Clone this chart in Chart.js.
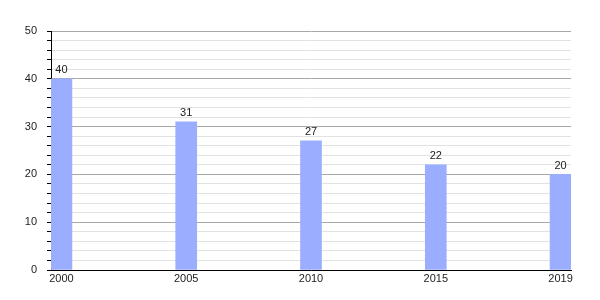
<!DOCTYPE html>
<html>
<head>
<meta charset="utf-8">
<script src="https://cdn.jsdelivr.net/npm/chart.js@4/dist/chart.umd.min.js"></script>
<style>
html,body{margin:0;padding:0;background:#fff;}
#wrap{width:600px;height:300px;}
</style>
</head>
<body>
<div id="wrap"><canvas id="c" width="600" height="300"></canvas></div>
<script>
const years = ['2000', '2005', '2010', '2015', '2019'];
const values = [40, 31, 27, 22, 20];
const yTickLabels = [0, 10, 20, 30, 40, 50];

const points = values.map((v, i) => ({ x: i, y: v }));

const valueLabels = {
  id: 'valueLabels',
  afterDatasetsDraw(chart) {
    const ctx = chart.ctx;
    const meta = chart.getDatasetMeta(0);
    ctx.save();
    ctx.font = '11px "Liberation Sans", Arial, sans-serif';
    ctx.fillStyle = '#222';
    ctx.textAlign = 'center';
    ctx.textBaseline = 'bottom';
    meta.data.forEach((bar, i) => {
      ctx.fillText(String(values[i]), bar.x, bar.y - 3);
    });
    ctx.restore();
  }
};

new Chart(document.getElementById('c'), {
  type: 'bar',
  data: {
    datasets: [{
      data: points,
      backgroundColor: '#9badff',
      borderWidth: 0,
      barThickness: 21
    }]
  },
  plugins: [valueLabels],
  options: {
    responsive: false,
    animation: false,
    maintainAspectRatio: false,
    layout: { padding: { left: 0, right: 29, top: 31, bottom: 0 } },
    plugins: { legend: { display: false }, tooltip: { enabled: false } },
    scales: {
      x: {
        type: 'linear',
        offset: false,
        min: -0.0835,
        max: 4.0835,
        afterBuildTicks(scale) {
          scale.ticks = years.map((y, i) => ({ value: i }));
        },
        afterFit(scale) { scale.height = 30; },
        grid: { display: false, drawTicks: false, tickLength: 0 },
        border: { display: true, color: '#000', width: 1 },
        ticks: {
          autoSkip: false,
          maxRotation: 0,
          padding: 2,
          color: '#222',
          font: { size: 11, family: '"Liberation Sans", Arial, sans-serif' },
          callback: (v) => years[v] !== undefined ? years[v] : ''
        }
      },
      y: {
        min: 0,
        max: 50,
        afterFit(scale) { scale.width = 51; },
        border: { display: true, color: '#000', width: 1 },
        grid: {
          color: (c) => (c.tick && c.tick.value % 10 === 0) ? '#a8a8a8' : '#e2e2e2',
          tickColor: '#000',
          tickLength: 4,
          drawTicks: true
        },
        ticks: {
          stepSize: 2,
          autoSkip: false,
          padding: 10,
          color: '#222',
          font: { size: 11, family: '"Liberation Sans", Arial, sans-serif' },
          callback: (v) => yTickLabels.includes(v) ? String(v) : ''
        }
      }
    }
  }
});
</script>
</body>
</html>
